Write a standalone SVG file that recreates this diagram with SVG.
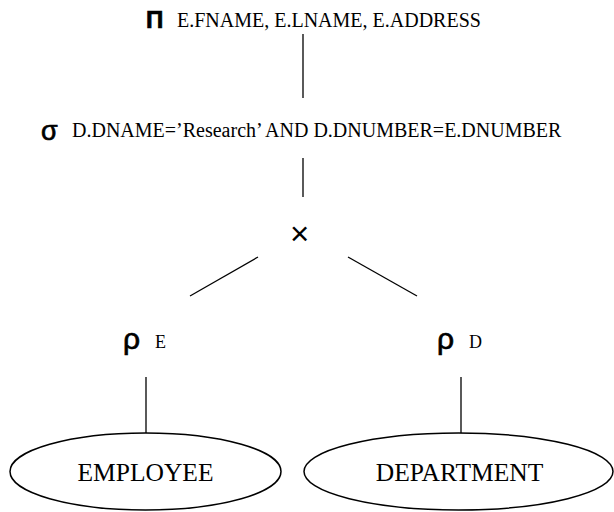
<svg xmlns="http://www.w3.org/2000/svg" width="614" height="512" viewBox="0 0 614 512">
<style>
.lbl{font-family:"Liberation Serif","Times New Roman",serif;font-size:20px;fill:#000}
.sub{font-family:"Liberation Serif","Times New Roman",serif;font-size:18px;fill:#000}
.sym{font-family:"Liberation Sans",Arial,sans-serif;fill:#000;stroke:#000;stroke-width:0.7}
.rel{font-family:"Liberation Serif","Times New Roman",serif;font-size:25.5px;fill:#000;text-anchor:middle}
.edge{stroke:#000;stroke-width:1.3;fill:none}
.shape{stroke:#000;stroke-width:1.5;fill:#fff}
</style>
<rect width="614" height="512" fill="#fff"/>
<g id="connectors">
<line class="edge" x1="303" y1="34" x2="303" y2="98"/>
<line class="edge" x1="303" y1="158" x2="303" y2="197"/>
<line class="edge" x1="258" y1="257" x2="190" y2="296"/>
<line class="edge" x1="348" y1="257" x2="417" y2="296"/>
<line class="edge" x1="146" y1="377" x2="146" y2="433"/>
<line class="edge" x1="461" y1="377" x2="461" y2="433"/>
</g>
<g id="project">
<text class="sym" x="146" y="28" font-size="24" font-weight="bold" stroke-width="0">Π</text>
<text class="lbl" x="177" y="27">E.FNAME, E.LNAME, E.ADDRESS</text>
</g>
<g id="select">
<text class="sym" x="41" y="140" font-size="27">σ</text>
<text class="lbl" x="72" y="137">D.DNAME=’Research’ AND D.DNUMBER=E.DNUMBER</text>
</g>
<g id="product">
<text x="290" y="245" font-family="Liberation Sans, Arial, sans-serif" font-size="33">×</text>
</g>
<g id="rename-e">
<text class="sym" x="123" y="349" font-size="30">ρ</text>
<text class="sub" x="155" y="348">E</text>
</g>
<g id="rename-d">
<text class="sym" x="437" y="349" font-size="30">ρ</text>
<text class="sub" x="469" y="348">D</text>
</g>
<g id="employee">
<ellipse class="shape" cx="145.5" cy="471.5" rx="135.5" ry="38.5"/>
<text class="rel" x="145.5" y="481">EMPLOYEE</text>
</g>
<g id="department">
<ellipse class="shape" cx="458.5" cy="471.5" rx="154.5" ry="38.5"/>
<text class="rel" x="459.5" y="481">DEPARTMENT</text>
</g>
</svg>
